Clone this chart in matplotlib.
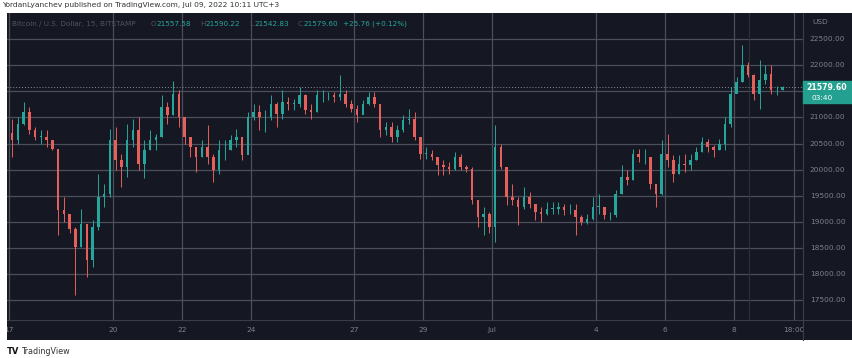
import numpy as np
import matplotlib
matplotlib.use("Agg")
import matplotlib.pyplot as plt
from matplotlib.patches import Rectangle

# BTC/USD 4h candles, starting Jun 17 00:00 (days)
first_open = 20700
closes = [
    20560, 20880, 21105, 20755, 20630, 20630, 20560, 20400, 19220, 19155,
    18870, 18520, 18965, 18260, 18900, 19475, 19540, 20560, 20180, 20050,
    20560, 20755, 20115, 20370, 20560, 20630, 21200, 21040, 21455, 21010,
    20630, 20435, 20240, 20435, 20240, 19990, 20370, 20370, 20560, 20630,
    20275, 21010, 21105, 21010, 21010, 21265, 21075, 21300, 21265, 21265,
    21425, 21135, 21105, 21425, 21425, 21425, 21390, 21455, 21265, 21170,
    21040, 21265, 21390, 21265, 20755, 20820, 20630, 20755, 20945, 20980,
    20630, 20305, 20305, 20240, 20085, 20050, 20020, 20240, 20050, 20020,
    19410, 19090, 19155, 18900, 20435, 20050, 19475, 19410, 19285, 19475,
    19350, 19190, 19155, 19250, 19250, 19285, 19220, 19220, 19090, 19000,
    19060, 19285, 19285, 19125, 19125, 19540, 19860, 19795, 20305, 20240,
    20240, 19730, 19540, 20305, 20180, 19925, 20115, 20085, 20180, 20340,
    20530, 20435, 20370, 20500, 20880, 21455, 21680, 22000, 21810, 21455,
    21710, 21840, 21520, 21520, 21579.60,
]
highs = [
    20980, 21010, 21300, 21200, 20820, 20755, 20760, 20500, 20400, 19475,
    19090, 18900, 19250, 18840, 19030, 19925, 19730, 20785, 20820, 20300,
    20880, 20980, 21010, 20560, 20755, 20690, 21425, 21300, 21700, 21520,
    20945, 20630, 20435, 20560, 20850, 20300, 20560, 20560, 20660, 20785,
    20630, 21105, 21265, 21235, 21135, 21425, 21300, 21520, 21390, 21360,
    21585, 21455, 21265, 21520, 21520, 21490, 21490, 21810, 21520, 21330,
    21235, 21330, 21490, 21490, 21265, 20915, 20915, 20850, 21040, 21170,
    21105, 20630, 20435, 20370, 20240, 20180, 20150, 20340, 20300, 20085,
    20050, 19315, 19285, 19190, 20850, 20500, 19730, 19730, 19475, 19670,
    19570, 19350, 19285, 19380, 19380, 19380, 19350, 19350, 19350, 19125,
    19155, 19475, 19540, 19285, 19190, 19600, 20085, 19990, 20400, 20400,
    20400, 20180, 19730, 20560, 20690, 20275, 20275, 20305, 20305, 20435,
    20630, 20595, 20470, 20595, 21010, 21585, 21775, 22385, 22065, 21840,
    22095, 22000, 22000, 21600, 21600,
]
lows = [
    20240, 20500, 20850, 20690, 20560, 20500, 20430, 20370, 18740, 19000,
    18775, 17590, 18520, 17940, 18130, 18840, 19285, 19475, 19990, 19670,
    19860, 20430, 19990, 19830, 20370, 20370, 20630, 20880, 21040, 20820,
    20500, 20240, 19955, 20240, 20115, 19765, 19925, 20180, 20370, 20435,
    20180, 20300, 20945, 20755, 20720, 20945, 20820, 20980, 21135, 21135,
    21200, 21075, 20980, 21105, 21300, 21330, 21300, 21330, 21200, 21105,
    20915, 21075, 21235, 21200, 20630, 20660, 20530, 20530, 20720, 20880,
    20560, 20210, 20210, 20180, 19890, 19890, 19925, 19990, 19990, 19955,
    19350, 18900, 18740, 18775, 18615, 20020, 19315, 19315, 18935, 19250,
    19255, 19030, 19000, 19125, 19155, 19155, 19125, 19155, 18740, 18935,
    18965, 19030, 19155, 19060, 19030, 19090, 19540, 19700, 19795, 20145,
    20115, 19635, 19285, 19510, 20050, 19765, 19925, 19955, 19990, 20180,
    20340, 20340, 20240, 20370, 20370, 20820, 21520, 21680, 21775, 21330,
    21170, 21650, 21455, 21425, 21520,
]
candle_days = 1 / 6

price_ticks = [17500, 18000, 18500, 19000, 19500, 20000, 20500, 21000, 21500, 22000, 22500]
time_ticks = [0, 3, 5, 7, 10, 12, 14, 17, 19, 21, 22.75]
time_labels = ["17", "20", "22", "24", "27", "29", "Jul", "4", "6", "8", "18:00"]
last_price = 21579.60

BG = "#151822"
GRID = "#4b4f5b"
TXT = "#7d818c"
UP = "#26a69a"
DOWN = "#e5605b"

W, H = 852, 358


def fx(px):
    return px / W


def fy(py):
    return 1 - py / H


fig = plt.figure(figsize=(W / 100, H / 100), dpi=100, facecolor="white")

# dark panel
bg = fig.add_axes([fx(7), fy(340), fx(852 - 7), (340 - 13) / H])
bg.set_facecolor(BG)
bg.set_xticks([])
bg.set_yticks([])
for s in bg.spines.values():
    s.set_visible(False)

xlim = (-0.064, 23.01)
ylim = (17116, 23004)

ax = fig.add_axes([fx(7), fy(320), fx(803 - 7), (320 - 13) / H])
ax.patch.set_alpha(0)
ax.set_xlim(*xlim)
ax.set_ylim(*ylim)
for s in ax.spines.values():
    s.set_visible(False)
ax.set_xticks([])
ax.set_yticks([])

for p in price_ticks:
    ax.axhline(p, color=GRID, lw=0.9, zorder=1)
for t in time_ticks:
    ax.axvline(t, color=GRID, lw=0.9, zorder=1)
ax.axvline(21.45, color="#2c303b", lw=0.8, zorder=1)

opens = [first_open] + closes[:-1]
x = (np.arange(len(closes)) + 0.5) * candle_days
o = np.array(opens, dtype=float)
c = np.array(closes, dtype=float)
colors = [UP if cc >= oo else DOWN for oo, cc in zip(o, c)]
ax.vlines(x, lows, highs, colors=colors, lw=0.7, zorder=3)
ax.bar(x, np.maximum(np.abs(c - o), 8), bottom=np.minimum(o, c),
       width=candle_days * 0.45, color=colors, lw=0, zorder=4)

ax.axhline(last_price, color="#8a8e98", lw=0.7, ls=(0, (1, 2)), zorder=2)

# time axis
tax = fig.add_axes([fx(7), fy(340), fx(803 - 7), 20 / H])
tax.patch.set_alpha(0)
tax.set_xlim(*xlim)
tax.set_ylim(0, 1)
tax.axis("off")
for t, lab in zip(time_ticks, time_labels):
    tax.text(t, 0.5, lab, color=TXT, fontsize=5.3, ha="center", va="center",
             clip_on=True)

# price axis (21500 sits under the last-price tag)
pax = fig.add_axes([fx(803), fy(320), fx(852 - 803), (320 - 13) / H])
pax.patch.set_alpha(0)
pax.set_xlim(0, 1)
pax.set_ylim(*ylim)
pax.axis("off")
for p in price_ticks:
    if abs(p - last_price) < 250:
        continue
    pax.text(0.14, p, f"{p:.2f}", color=TXT, fontsize=5.3, ha="left", va="center")
fig.text(fx(812), fy(22), "USD", color=TXT, fontsize=5.3, ha="left", va="center")

# last price tag
fig.patches.append(Rectangle((fx(803), fy(103)), fx(49), 22 / H,
                             transform=fig.transFigure, color="#23a08f", zorder=5))
fig.text(fx(827), fy(87.5), f"{last_price:.2f}", color="white", fontsize=5.6,
         fontweight="bold", ha="center", va="center", zorder=6)
fig.text(fx(811), fy(97.5), "03:40", color="white", fontsize=5.3,
         ha="left", va="center", zorder=6)

# separators
fig.add_artist(plt.Line2D([fx(803), fx(803)], [fy(13), fy(340)], color="#3a3e4a", lw=0.8))
fig.add_artist(plt.Line2D([fx(7), fx(852)], [fy(320), fy(320)], color="#3a3e4a", lw=0.8))

# legend line
fig.text(fx(12), fy(24), "Bitcoin / U.S. Dollar, 15, BITSTAMP", color="#4f5361",
         fontsize=5.2, ha="left", va="center")
legend_items = [("O", "21557.58", 151), ("H", "21590.22", 200),
                ("L", "21542.83", 249), ("C", "21579.60", 298)]
for key, val, px in legend_items:
    fig.text(fx(px), fy(24), key, color="#4f5361", fontsize=5.2, ha="left", va="center")
    fig.text(fx(px + 5), fy(24), val, color=UP, fontsize=5.2, ha="left", va="center")
fig.text(fx(343), fy(24), "+25.76 (+0.12%)", color=UP, fontsize=5.2,
         ha="left", va="center")

# header and footer
fig.text(fx(2), fy(5.5), "YordanLyanchev published on TradingView.com, Jul 09, 2022 10:11 UTC+3",
         color="#333333", fontsize=5.4, ha="left", va="center")
fig.text(fx(7), fy(352), "TV", color="#111111", fontsize=6, fontweight="heavy",
         ha="left", va="center")
fig.text(fx(21), fy(352), "TradingView", color="#333333", fontsize=5.8,
         ha="left", va="center")

fig.savefig("out.png", dpi=100, facecolor="white")
